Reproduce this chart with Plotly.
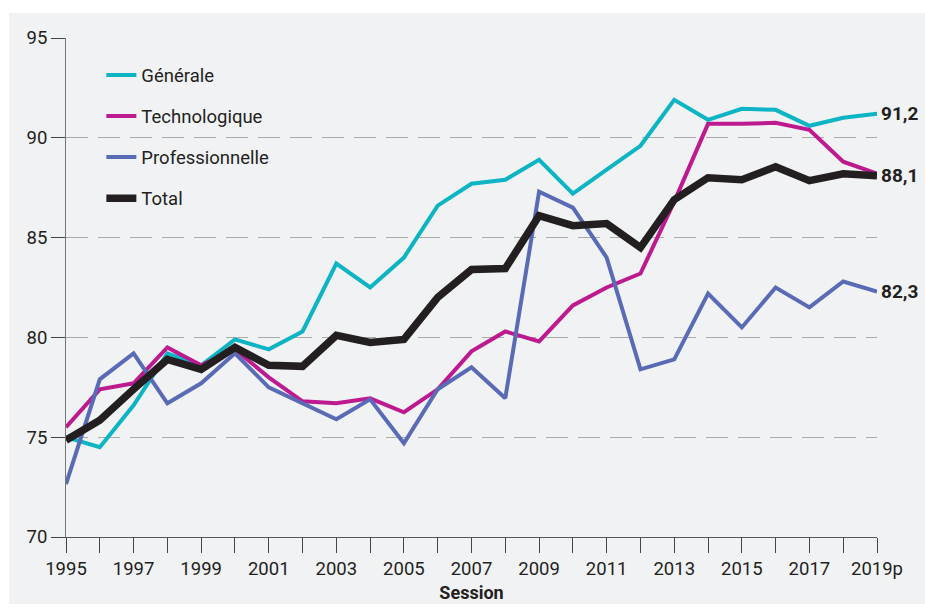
import plotly.graph_objects as go

years = list(range(1995, 2020))
tick_vals = list(range(1995, 2020, 2))
tick_text = ["1995", "1997", "1999", "2001", "2003", "2005", "2007", "2009",
             "2011", "2013", "2015", "2017", "2019p"]

generale = [75.0, 74.5, 76.6, 79.2, 78.6, 79.9, 79.4, 80.3, 83.7, 82.5, 84.0, 86.6,
            87.7, 87.9, 88.9, 87.2, 88.4, 89.6, 91.9, 90.9, 91.45, 91.4, 90.6, 91.0, 91.2]
techno = [75.5, 77.4, 77.7, 79.5, 78.6, 79.4, 78.0, 76.8, 76.7, 76.95, 76.25, 77.4,
          79.3, 80.3, 79.8, 81.6, 82.5, 83.2, 86.8, 90.7, 90.7, 90.75, 90.4, 88.8, 88.2]
pro = [72.65, 77.9, 79.2, 76.7, 77.7, 79.2, 77.5, 76.7, 75.9, 76.9, 74.7, 77.4,
       78.5, 76.95, 87.3, 86.5, 84.0, 78.4, 78.9, 82.2, 80.5, 82.5, 81.5, 82.8, 82.3]
total = [74.85, 75.85, 77.4, 78.9, 78.4, 79.5, 78.6, 78.55, 80.1, 79.75, 79.9, 82.0,
         83.4, 83.45, 86.1, 85.6, 85.7, 84.5, 86.9, 88.0, 87.9, 88.55, 87.85, 88.2, 88.1]

end_labels = ["91,2", "88,1", "82,3"]
end_values = [generale[-1], total[-1], pro[-1]]

series = [
    ("Générale", generale, "#0cb4c4", 4),
    ("Technologique", techno, "#be1a8f", 4),
    ("Professionnelle", pro, "#5a6bb6", 4),
    ("Total", total, "#231f20", 7.5),
]

fig = go.Figure()
for i, (name, vals, col, w) in enumerate(series):
    fig.add_trace(go.Scatter(
        x=years, y=vals, mode="lines", name=name,
        line=dict(color=col, width=w), legendgroup=f"g{i}",
        cliponaxis=False,
    ))

for txt, v in zip(end_labels, end_values):
    fig.add_annotation(x=years[-1], y=v, text=f"<b>{txt}</b>", showarrow=False,
                       xanchor="left", yanchor="middle", xshift=2,
                       font=dict(family="Roboto", size=19, color="#231f20"))

bg = "#f1f2f4"
fig.add_shape(type="rect", xref="paper", yref="paper",
              x0=-57 / 811, x1=1 + 48 / 811, y0=-67 / 499, y1=1 + 25 / 499,
              fillcolor=bg, line=dict(width=0), layer="below")

fig.update_layout(
    width=925, height=607,
    margin=dict(l=66, r=48, t=38, b=70),
    paper_bgcolor="white", plot_bgcolor=bg,
    font=dict(family="Roboto", size=18.5, color="#231f20"),
    showlegend=True,
    legend=dict(x=0.0436, y=0.963, xanchor="left", yanchor="top",
                bgcolor="rgba(0,0,0,0)", traceorder="grouped",
                tracegroupgap=14, font=dict(size=18.5)),
    xaxis=dict(
        range=[1995, 2019], tickvals=tick_vals, ticktext=tick_text,
        showgrid=False, zeroline=False, automargin=False,
        showline=True, linecolor="#555", linewidth=1,
        ticks="outside", ticklen=15, tickcolor="#444", tickwidth=1,
        minor=dict(dtick=1, tick0=1995, ticks="outside", ticklen=15,
                   tickcolor="#444", tickwidth=1, showgrid=False),
        tickfont=dict(size=18.5),
        title=dict(text="<b>Session</b>", font=dict(size=18), standoff=7),
    ),
    yaxis=dict(
        range=[70, 95], dtick=5, tick0=70, automargin=False,
        showgrid=True, gridcolor="#aaaaaa", gridwidth=1, griddash="22px,10px",
        zeroline=False, showline=True, linecolor="#777", linewidth=1,
        ticks="outside", ticklen=14, tickcolor="#444", tickwidth=1,
        tickfont=dict(size=18.5),
    ),
)

fig.write_html("out.html", config={"displayModeBar": False},
               post_script="document.body.style.margin='0';")
